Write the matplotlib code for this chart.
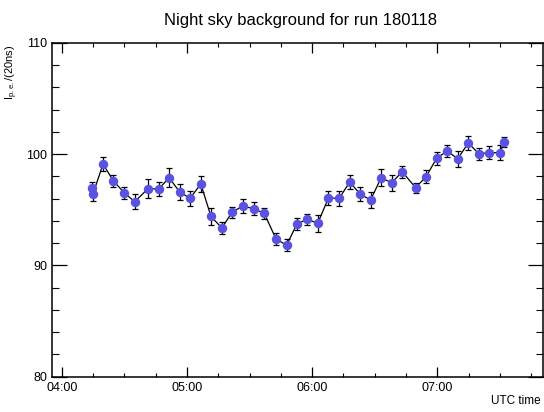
import matplotlib
matplotlib.use("Agg")
import matplotlib.pyplot as plt
import matplotlib.dates as mdates
import pandas as pd

plt.rcParams['font.family'] = ['Liberation Sans', 'DejaVu Sans']

times = ["04:14:36", "04:14:54", "04:19:42", "04:24:42", "04:30:00", "04:34:54",
         "04:41:18", "04:46:24", "04:51:24", "04:56:30", "05:01:24", "05:06:36",
         "05:11:30", "05:16:42", "05:21:36", "05:26:42", "05:31:54", "05:37:00",
         "05:42:36", "05:47:42", "05:52:42", "05:57:36", "06:02:42", "06:07:48",
         "06:13:00", "06:18:00", "06:23:00", "06:28:00", "06:33:06", "06:38:06",
         "06:43:12", "06:49:36", "06:54:36", "06:59:42", "07:04:42", "07:09:48",
         "07:14:54", "07:19:54", "07:25:00", "07:30:00", "07:32:00"]
values = [96.92, 96.41, 99.10, 97.58, 96.50, 95.72, 96.89, 96.86, 97.87, 96.59,
          96.02, 97.31, 94.39, 93.36, 94.77, 95.33, 95.09, 94.68, 92.40, 91.80,
          93.72, 94.14, 93.78, 96.05, 96.02, 97.49, 96.41, 95.87, 97.87, 97.42,
          98.41, 96.98, 97.96, 99.62, 100.27, 99.58, 100.99, 100.03, 100.12, 100.12,
          101.05]
errors = [0.6, 0.6, 0.65, 0.55, 0.55, 0.65, 0.85, 0.65, 0.85, 0.7,
          0.7, 0.7, 0.8, 0.5, 0.5, 0.6, 0.6, 0.5, 0.55, 0.55,
          0.5, 0.5, 0.75, 0.65, 0.7, 0.6, 0.6, 0.7, 0.75, 0.7,
          0.55, 0.45, 0.6, 0.6, 0.55, 0.7, 0.6, 0.55, 0.6, 0.65,
          0.45]

day = "2018-01-18 "
t = pd.to_datetime([day + s for s in times])

W, H = 544, 412
fig = plt.figure(figsize=(W / 100, H / 100), dpi=100)
ax = fig.add_axes([51.7 / W, (H - 376.7) / H, (543 - 51.7) / W, (376.7 - 42.7) / H])

ax.plot(t, values, color='black', lw=0.9, zorder=2)
ax.errorbar(t, values, yerr=errors, fmt='none', ecolor='black', elinewidth=0.9,
            capsize=2, capthick=0.9, zorder=3)
ax.plot(t, values, 'o', color='#5a52e0', markersize=6.8, markeredgewidth=0, zorder=4)

ax.set_xlim(pd.Timestamp(day + "03:55:06"), pd.Timestamp(day + "07:50:42"))
ax.set_ylim(80, 110)

ax.xaxis.set_major_locator(mdates.HourLocator())
ax.xaxis.set_minor_locator(mdates.MinuteLocator(byminute=[15, 30, 45]))
ax.xaxis.set_major_formatter(mdates.DateFormatter("%H:%M"))
ax.set_yticks([80, 90, 100, 110])
ax.set_yticks(range(80, 111, 2), minor=True)

ax.tick_params(axis='x', which='major', direction='in', length=7.2, width=0.9,
               top=True, bottom=True, labelsize=9, pad=4)
ax.tick_params(axis='x', which='minor', direction='in', length=3, width=0.8,
               top=True, bottom=True)
ax.tick_params(axis='y', which='major', direction='in', length=10.5, width=0.9,
               left=True, right=True, labelsize=9, pad=3)
ax.tick_params(axis='y', which='minor', direction='in', length=5.3, width=0.8,
               left=True, right=True)
for s in ax.spines.values():
    s.set_linewidth(1.1)

fig.text(300 / W, 1 - 20 / H, "Night sky background for run 180118",
         ha='center', va='center', fontsize=12)
fig.text(12 / W, 1 - 45 / H, r"I$_{\mathregular{p.e.}}$/(20ns)", rotation=90,
         ha='center', va='top', fontsize=8)
fig.text(541 / W, 1 - 401 / H, "UTC time", ha='right', va='center', fontsize=8.5)

fig.savefig("out.png", dpi=100)
